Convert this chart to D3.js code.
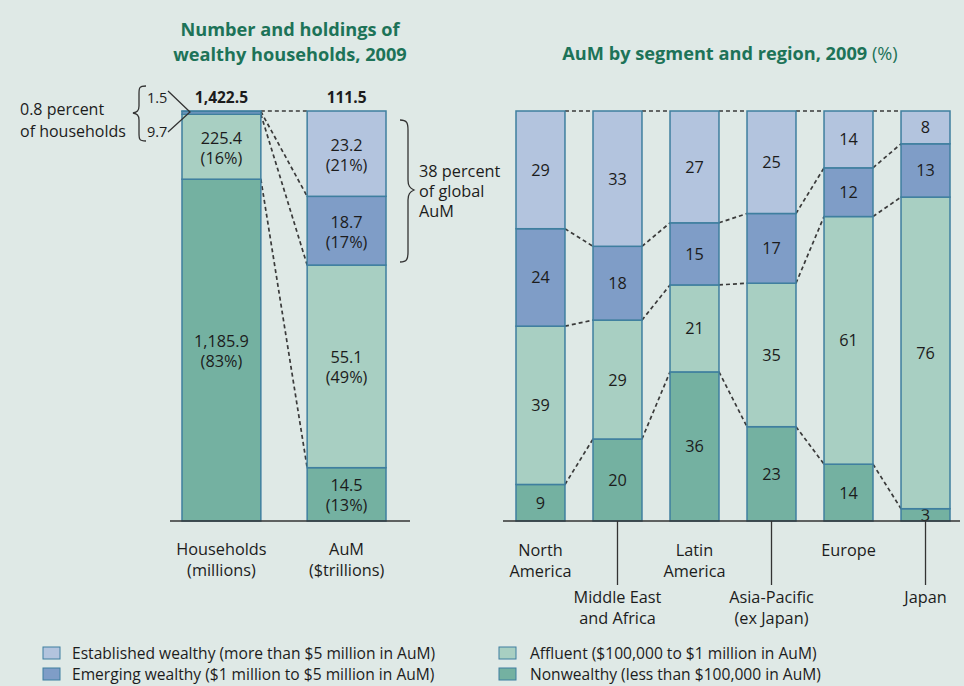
<!DOCTYPE html>
<html><head><meta charset="utf-8">
<script src="https://cdn.jsdelivr.net/npm/d3@7"></script>
<style>body{margin:0;background:#dfe9e6}svg{display:block}</style>
</head><body><svg id="c" width="964" height="686"></svg>
<script>
// ---------- data ----------
const segments = ["Nonwealthy", "Affluent", "Emerging", "Established"];
const legendLabels = [
  "Established wealthy (more than $5 million in AuM)",
  "Emerging wealthy ($1 million to $5 million in AuM)",
  "Affluent ($100,000 to $1 million in AuM)",
  "Nonwealthy (less than $100,000 in AuM)"
];
const legendKeys = ["Established", "Emerging", "Affluent", "Nonwealthy"];
const leftCategories = ["Households", "AuM"];
const leftCategoryLabels = [["Households", "(millions)"], ["AuM", "($trillions)"]];
const householdsValues = [1185.9, 225.4, 9.7, 1.5];   // Nonwealthy, Affluent, Emerging, Established
const aumValues = [14.5, 55.1, 18.7, 23.2];
const regions = ["North America", "Middle East and Africa", "Latin America", "Asia-Pacific (ex Japan)", "Europe", "Japan"];
const regionLabels = [["North", "America"], ["Middle East", "and Africa"], ["Latin", "America"], ["Asia-Pacific", "(ex Japan)"], ["Europe"], ["Japan"]];
const nonwealthyPct = [9, 20, 36, 23, 14, 3];
const affluentPct = [39, 29, 21, 35, 61, 76];
const emergingPct = [24, 18, 15, 17, 12, 13];
const establishedPct = [29, 33, 27, 25, 14, 8];

// ---------- style ----------
const colors = {Established: "#b3c4de", Emerging: "#7f9dc7", Affluent: "#a8cfc2", Nonwealthy: "#74b1a1"};
const strokeC = "#3f7f9f";
const titleC = "#1d7358";
const textC = "#1c1c1c";
const FONT = "'Open Sans', Lato, sans-serif";
const FS = 16.3;
const svg = d3.select("#c").style("font-family", FONT);
svg.append("rect").attr("width", 964).attr("height", 686).attr("fill", "#dfe9e6");

const yTop = 111, yBase = 521;
const y = d3.scaleLinear().domain([0, 1]).range([yBase, yTop]);
const stack = d3.stack().keys(segments).offset(d3.stackOffsetExpand);
const fmt = d3.format(",.1f");

// ---------- titles ----------
const t1 = svg.append("text").attr("x", 290).attr("text-anchor", "middle")
  .attr("fill", titleC).attr("font-weight", "bold").attr("font-size", 18.2);
t1.append("tspan").attr("x", 290).attr("y", 36).text("Number and holdings of");
t1.append("tspan").attr("x", 290).attr("y", 61).text("wealthy households, 2009");
const t2 = svg.append("text").attr("x", 730).attr("y", 60).attr("text-anchor", "middle")
  .attr("fill", titleC).attr("font-size", 18.2);
t2.append("tspan").attr("font-weight", "bold").text("AuM by segment and region, 2009 ");
t2.append("tspan").text("(%)");

// ---------- left chart ----------
const leftRows = leftCategories.map((c, i) => {
  const vals = i === 0 ? householdsValues : aumValues;
  const r = {cat: c};
  segments.forEach((s, j) => r[s] = vals[j]);
  return r;
});
const xL = d3.scaleBand().domain(leftCategories).range([182, 386]).paddingInner(0.37);
const leftStack = stack(leftRows);

// connectors
const gL = svg.append("g");
leftStack.forEach(layer => {
  gL.append("line")
    .attr("x1", xL("Households") + xL.bandwidth()).attr("y1", y(layer[0][1]))
    .attr("x2", xL("AuM")).attr("y2", y(layer[1][1]))
    .attr("stroke", "#3a3a3a").attr("stroke-width", 1.7).attr("stroke-dasharray", "4,3");
});
leftStack.forEach(layer => {
  gL.selectAll(null).data(layer).enter().append("rect")
    .attr("x", d => xL(d.data.cat)).attr("width", xL.bandwidth())
    .attr("y", d => y(d[1])).attr("height", d => y(d[0]) - y(d[1]))
    .attr("fill", colors[layer.key]).attr("stroke", strokeC).attr("stroke-width", 1.5);
});
// value labels
leftStack.forEach(layer => {
  layer.forEach(d => {
    const v = d.data[layer.key];
    const total = segments.reduce((a, s) => a + d.data[s], 0);
    if (y(d[0]) - y(d[1]) < 30) return;
    const cy = (y(d[0]) + y(d[1])) / 2;
    const cx = xL(d.data.cat) + xL.bandwidth() / 2;
    const t = svg.append("text").attr("text-anchor", "middle").attr("fill", textC).attr("font-size", FS);
    t.append("tspan").attr("x", cx).attr("y", cy - 3).text(fmt(v));
    t.append("tspan").attr("x", cx).attr("y", cy + 17).text("(" + Math.round(v / total * 100) + "%)");
  });
});
// totals
leftRows.forEach(r => {
  const total = segments.reduce((a, s) => a + r[s], 0);
  svg.append("text").attr("x", xL(r.cat) + xL.bandwidth() / 2).attr("y", 103)
    .attr("text-anchor", "middle").attr("font-weight", "bold").attr("font-size", 15.5).attr("fill", textC)
    .text(fmt(total));
});
// baseline
svg.append("line").attr("x1", 170).attr("x2", 410).attr("y1", yBase).attr("y2", yBase)
  .attr("stroke", "#333").attr("stroke-width", 1.6);
// category labels
leftCategories.forEach((c, i) => {
  const t = svg.append("text").attr("text-anchor", "middle").attr("fill", textC).attr("font-size", FS);
  leftCategoryLabels[i].forEach((s, k) => t.append("tspan").attr("x", xL(c) + xL.bandwidth() / 2).attr("y", 555 + k * 21).text(s));
});
// small segments annotation
svg.append("text").attr("x", 147).attr("y", 103).attr("font-size", 14.5).attr("fill", textC).text(fmt(householdsValues[3]));
svg.append("text").attr("x", 147).attr("y", 137).attr("font-size", 14.5).attr("fill", textC).text(fmt(householdsValues[2]));
svg.append("path").attr("d", "M168,91 L190,112 L168,132").attr("fill", "none").attr("stroke", "#333").attr("stroke-width", 1.3);
svg.append("path").attr("d", "M146,86 C139,86 139,88 139,94 L139,106 C139,111 137,112 133,113 C137,114 139,115 139,120 L139,133 C139,139 139,141 146,141")
  .attr("fill", "none").attr("stroke", "#333").attr("stroke-width", 1.3);
svg.append("text").attr("x", 20).attr("y", 115).attr("fill", textC).attr("font-size", 16).text("0.8 percent");
svg.append("text").attr("x", 20).attr("y", 137).attr("fill", textC).attr("font-size", 16).text("of households");
// right brace
svg.append("path").attr("d", "M400,120 C407,120 408,123 408,130 L408,180 C408,186 410,188 414,190 C410,192 408,194 408,200 L408,252 C408,259 407,262 400,262")
  .attr("fill", "none").attr("stroke", "#333").attr("stroke-width", 1.3);
const tA = svg.append("text").attr("fill", textC).attr("font-size", FS);
tA.append("tspan").attr("x", 419).attr("y", 177).text("38 percent");
tA.append("tspan").attr("x", 419).attr("y", 197).text("of global");
tA.append("tspan").attr("x", 419).attr("y", 217).text("AuM");

// ---------- right chart ----------
const rightRows = regions.map((r, i) => ({
  region: r, Nonwealthy: nonwealthyPct[i], Affluent: affluentPct[i],
  Emerging: emergingPct[i], Established: establishedPct[i]
}));
const xR = d3.scaleBand().domain(regions).range([516, 950]).paddingInner(0.364);
const rightStack = stack(rightRows);
const gR = svg.append("g");
rightStack.forEach(layer => {
  for (let i = 0; i < layer.length - 1; i++) {
    gR.append("line")
      .attr("x1", xR(regions[i]) + xR.bandwidth()).attr("y1", y(layer[i][1]))
      .attr("x2", xR(regions[i + 1])).attr("y2", y(layer[i + 1][1]))
      .attr("stroke", "#3a3a3a").attr("stroke-width", 1.7).attr("stroke-dasharray", "4,3");
  }
});
rightStack.forEach(layer => {
  gR.selectAll(null).data(layer).enter().append("rect")
    .attr("x", d => xR(d.data.region)).attr("width", xR.bandwidth())
    .attr("y", d => y(d[1])).attr("height", d => y(d[0]) - y(d[1]))
    .attr("fill", colors[layer.key]).attr("stroke", strokeC).attr("stroke-width", 1.5);
  gR.selectAll(null).data(layer).enter().append("text")
    .attr("x", d => xR(d.data.region) + xR.bandwidth() / 2)
    .attr("y", d => (y(d[0]) + y(d[1])) / 2 + 6)
    .attr("text-anchor", "middle").attr("fill", textC).attr("font-size", FS)
    .text(d => d.data[layer.key]);
});
svg.append("line").attr("x1", 503).attr("x2", 960).attr("y1", yBase).attr("y2", yBase)
  .attr("stroke", "#333").attr("stroke-width", 1.6);
regions.forEach((r, i) => {
  const cx = xR(r) + xR.bandwidth() / 2;
  const low = i % 2 === 1;
  if (low) svg.append("line").attr("x1", cx).attr("x2", cx).attr("y1", yBase).attr("y2", 585)
    .attr("stroke", "#333").attr("stroke-width", 1.3);
  const t = svg.append("text").attr("text-anchor", "middle").attr("fill", textC).attr("font-size", FS);
  regionLabels[i].forEach((s, k) => t.append("tspan").attr("x", cx).attr("y", (low ? 603 : 556) + k * 21).text(s));
});

// ---------- legend ----------
const legPos = [[43, 72, 653], [43, 72, 674], [499, 530, 653], [499, 530, 674]];
legendKeys.forEach((k, i) => {
  const [sx, tx, cy] = legPos[i];
  svg.append("rect").attr("x", sx).attr("y", cy - 6).attr("width", 17).attr("height", 12)
    .attr("fill", colors[k]).attr("stroke", strokeC).attr("stroke-width", 1);
  svg.append("text").attr("x", tx).attr("y", cy + 5.5).attr("fill", textC).attr("font-size", 15.6).text(legendLabels[i]);
});
</script></body></html>
